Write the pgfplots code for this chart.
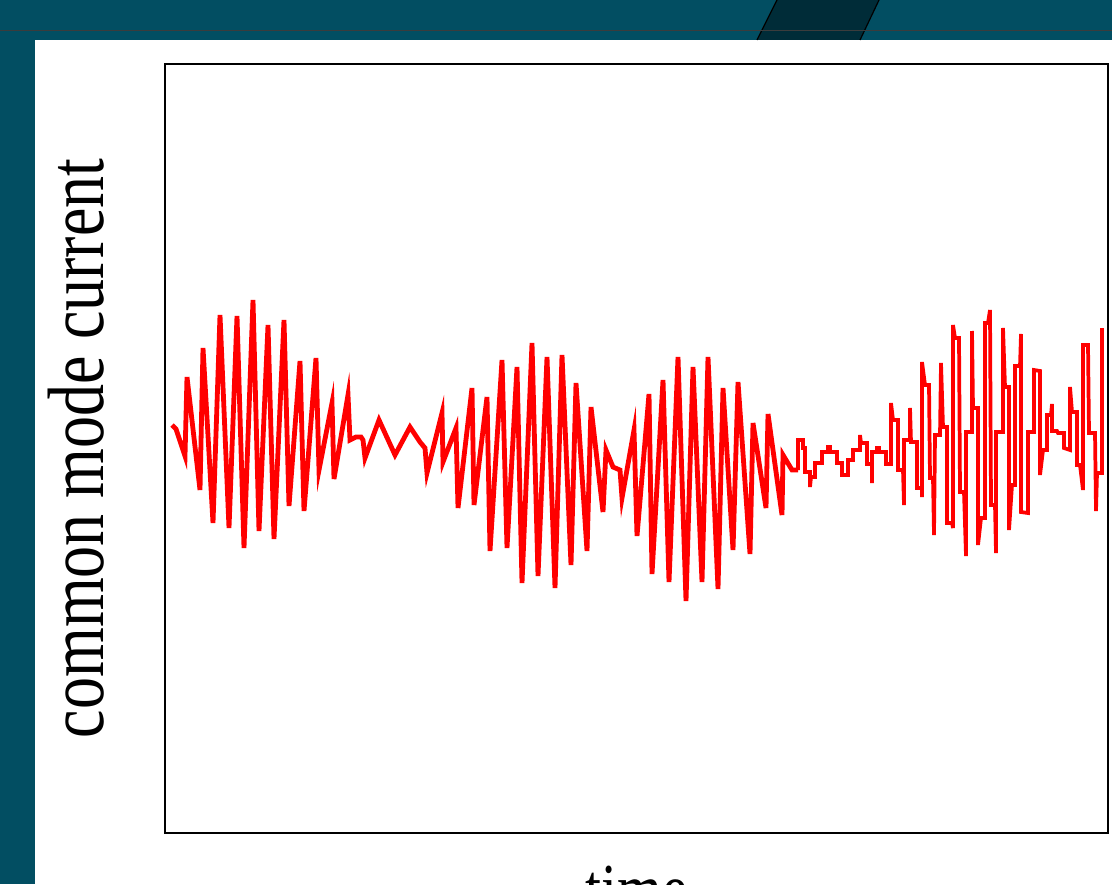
\documentclass[border=0pt]{standalone}
\usepackage{pgfplots}
\pgfplotsset{compat=1.18}
\usepackage{fontspec}
\setmainfont{Liberation Serif}
\definecolor{slideteal}{RGB}{2,78,98}
\definecolor{darkteal}{RGB}{0,44,56}
\definecolor{bandline}{RGB}{60,60,60}
\begin{document}
\begin{tikzpicture}
\begin{scope}[x=0.75pt,y=-0.75pt]
\fill[slideteal] (0,0) rectangle (1112,884);
\fill[white] (35,40) rectangle (1112,884);
\fill[darkteal] (777,0) -- (879,0) -- (860,40) -- (757,40) -- cycle;
\draw[black,line width=0.9pt] (777,0) -- (757,40);
\draw[black,line width=0.9pt] (879,0) -- (860,40);
\draw[bandline,line width=1pt] (0,30.5) -- (1112,30.5);
\end{scope}
\begin{axis}[
  at={(123.75pt,-624.75pt)}, anchor=south west,
  scale only axis, width=707.25pt, height=576.75pt,
  xmin=165, xmax=1108, ymin=64, ymax=833, y dir=reverse,
  xtick=\empty, ytick=\empty,
  axis line style={black,line width=1.5pt},
  xlabel={\scalebox{1}[1.25]{time}}, ylabel={\scalebox{1}[1.25]{common mode current}},
  ylabel style={font=\fontsize{48}{50}\selectfont, at={(axis description cs:-0.094,0.5)}, anchor=center, rotate=0},
  xlabel style={font=\fontsize{43}{45}\selectfont, at={(axis description cs:0.5,-0.104)}, anchor=base},
]
\addplot[red, line width=3.6pt, line join=miter, mark=none] coordinates {
(172,425)(176,429)(185,456)(187,377)(200,490)(203,348)(213,523)(220,315)(229,528)(237,316)(244,548)(253,300)(259,531)(268,325)(274,539)(284,320)(289,506)(300,361)(304,511)(316,358)(319,470)(332,403)(334,479)(348,395)(350,440)(356,437)(361,437)(363,440)(365,458)(379,420)(395,455)(410,427)(420,442)(425,448)(427,473)(442,413)(443,462)(456,428)(458,508)(472,388)(474,505)(487,397)(490,551)(502,360)(507,548)(517,367)(522,583)(532,343)(538,576)(547,357)(555,588)(562,355)(571,565)(576,383)(587,551)(591,407)(603,512)(606,450)(613,467)(620,470)(622,498)(634,430)(637,536)(649,394)(652,574)(663,380)(669,582)(678,357)(686,601)(693,367)(702,582)(708,357)(718,589)(723,388)(733,550)(738,382)(750,554)(753,423)(766,508)(768,414)(782,515)(783,455)(792,470)(798,470)
};
\addplot[red, line width=2.8pt, line join=miter, mark=none] coordinates {
(798,470)(798,440)(803,440)(803,448)(805,448)(805,472)(810,472)(810,487)(811,477)(815,477)(815,463)(822,463)(822,452)(828,452)(828,447)(830,447)(830,452)(837,452)(837,463)(842,463)(842,475)(848,475)(848,460)(853,460)(853,450)(860,450)(860,435)(861,443)(867,443)(867,464)(872,464)(872,483)(872,452)(877,452)(877,448)(879,448)(879,452)(886,452)(886,464)(891,464)(891,403)(893,420)(898,420)(898,470)(903,470)(904,505)(904,440)(910,440)(910,408)(911,442)(917,442)(917,488)(922,488)(922,497)(922,362)(925,385)(929,385)(930,478)(933,478)(934,535)(935,435)(940,435)(941,363)(943,427)(947,427)(947,523)(952,523)(953,528)(953,325)(955,338)(959,338)(960,492)(964,492)(966,556)(966,432)(972,432)(972,331)(973,408)(978,408)(978,545)(981,518)(985,518)(985,323)(988,323)(990,310)(991,505)(995,505)(996,553)(996,432)(1003,432)(1003,328)(1005,387)(1009,387)(1009,530)(1012,485)(1015,485)(1015,366)(1020,366)(1021,334)(1021,512)(1028,513)(1028,432)(1034,432)(1034,370)(1040,371)(1040,475)(1043,450)(1047,450)(1047,415)(1051,415)(1052,404)(1052,431)(1057,431)(1058,433)(1064,433)(1064,448)(1070,450)(1070,387)(1072,412)(1077,412)(1077,465)(1080,465)(1083,490)(1083,345)(1088,345)(1089,433)(1095,433)(1096,511)(1097,473)(1102,473)(1102,328)
};
\end{axis}
\pgfresetboundingbox
\useasboundingbox (0,0) rectangle (834pt,-663pt);
\end{tikzpicture}
\end{document}
